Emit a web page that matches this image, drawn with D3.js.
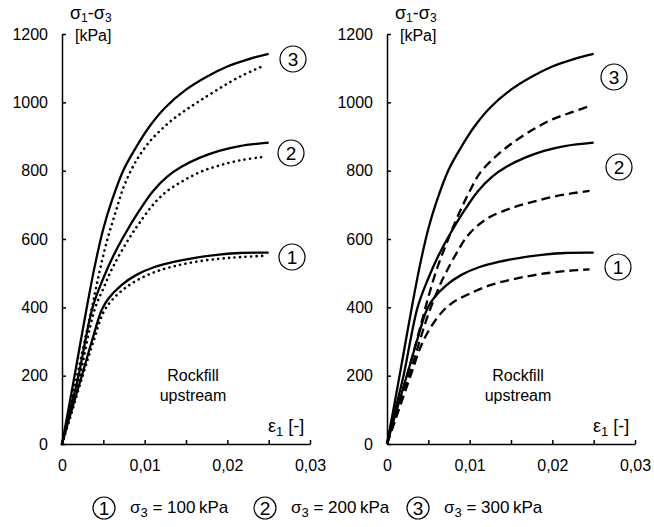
<!DOCTYPE html>
<html>
<head>
<meta charset="utf-8">
<script src="https://cdn.jsdelivr.net/npm/d3@7"></script>
<style>
  body { margin: 0; background: #fff; }
  text { font-family: "Liberation Sans", Arial, sans-serif; fill: #000; }
</style>
</head>
<body>
<div id="vis"></div>
<script>
// strain eps1 [-] vs deviator stress q [kPa]
// measured curves (solid) - same in both panels
const test1 = [[0,0],[.001,85],[.0024,200],[.0036,300],[.0048,392],[.0056,425],[.0072,465],[.009,495],[.0112,518],[.0135,533],[.0161,545],[.019,554],[.0215,559],[.025,560]];
const test2 = [[0,0],[.001,100],[.002,200],[.0037,400],[.005,485],[.0062,550],[.0074,605],[.0094,685],[.011,740],[.0127,782],[.0145,812],[.0167,838],[.019,858],[.0215,872],[.025,882]];
const test3 = [[0,0],[.001,130],[.002,265],[.003,400],[.004,525],[.005,630],[.006,710],[.0074,800],[.009,870],[.0106,930],[.0125,985],[.015,1037],[.0175,1075],[.02,1105],[.0225,1126],[.025,1142]];

// left panel model (dotted)
const dot1 = [[0,0],[.001,78],[.0025,200],[.0038,300],[.005,385],[.006,420],[.0074,452],[.009,478],[.0112,503],[.0135,520],[.0161,533],[.019,542],[.0215,547],[.0245,551]];
const dot2 = [[0,0],[.001,90],[.002,180],[.0039,390],[.005,455],[.0062,520],[.0082,605],[.0094,648],[.011,700],[.0127,740],[.0145,768],[.0167,796],[.019,815],[.0215,830],[.0243,840]];
const dot3 = [[0,0],[.001,110],[.002,220],[.0035,385],[.0045,500],[.0055,600],[.0065,680],[.0075,755],[.009,830],[.0106,885],[.012,920],[.0134,950],[.015,978],[.0167,1005],[.019,1040],[.0215,1075],[.0245,1108]];

// right panel model (dashed)
const dash1 = [[0,0],[.001,70],[.002,140],[.003,210],[.004,280],[.005,330],[.0066,385],[.008,415],[.01,440],[.0125,465],[.015,481],[.0175,493],[.02,502],[.0225,508],[.0245,511]];
const dash2 = [[0,0],[.001,75],[.002,150],[.003,225],[.004,305],[.005,380],[.0064,465],[.0072,505],[.0084,558],[.0096,605],[.011,640],[.0125,665],[.015,690],[.0175,708],[.02,723],[.0225,734],[.0245,741]];
const dash3 = [[0,0],[.001,80],[.002,165],[.003,250],[.004,340],[.005,430],[.006,510],[.007,575],[.008,635],[.009,690],[.01,740],[.0113,795],[.0133,845],[.015,878],[.0175,918],[.02,950],[.0225,972],[.0245,989]];

const xTicks = [0, 0.005, 0.01, 0.015, 0.02, 0.025, 0.03];
const yTicks = [0, 200, 400, 600, 800, 1000, 1200];
const confining = ["100", "200", "300"];

const W = 654, H = 527;

let svg = d3.select('#vis')
  .append('svg')
  .attr('width', W)
  .attr('height', H);

let y = d3.scaleLinear().domain([0, 1200]).range([444, 34]);

function panel(x0, model, dashArray, capStyle, labelPos) {
  let x = d3.scaleLinear().domain([0, 0.03]).range([x0, x0 + 248]);

  // axes, ticks pointing inwards
  svg.append("g")
    .attr("transform", `translate(0,${y(0)})`)
    .call(d3.axisBottom(x)
      .tickValues(xTicks)
      .tickSize(-4)
      .tickSizeOuter(0)
      .tickPadding(16)
      .tickFormat(d => Math.abs(d * 100 - Math.round(d * 100)) < 1e-9
        ? (d === 0 ? "0" : d3.format(".2f")(d).replace(".", ","))
        : ""))
    .call(g => g.selectAll("text").attr("font-size", 16).attr("font-family", null));

  svg.append("g")
    .attr("transform", `translate(${x(0)},0)`)
    .call(d3.axisLeft(y)
      .tickValues(yTicks)
      .tickSize(-4)
      .tickSizeOuter(0)
      .tickPadding(14)
      .tickFormat(d3.format("d")))
    .call(g => g.selectAll("text").attr("font-size", 16).attr("font-family", null));

  svg.selectAll(".domain, .tick line")
    .attr("stroke", "#000")
    .attr("stroke-width", 1.5);

  let line = d3.line()
    .x(d => x(d[0]))
    .y(d => y(d[1]))
    .curve(d3.curveCatmullRom.alpha(0.5));

  // model curves
  svg.append("g")
    .selectAll("path")
    .data(model)
    .join("path")
      .attr("d", line)
      .attr("fill", "none")
      .attr("stroke", "#000")
      .attr("stroke-width", capStyle === "round" ? 2.6 : 2.3)
      .attr("stroke-linecap", capStyle)
      .attr("stroke-dasharray", dashArray);

  // measured curves
  svg.append("g")
    .selectAll("path")
    .data([test1, test2, test3])
    .join("path")
      .attr("d", line)
      .attr("fill", "none")
      .attr("stroke", "#000")
      .attr("stroke-width", 2.3);

  // axis titles
  let q = svg.append("text")
    .attr("x", x0 + 8)
    .attr("y", 19)
    .attr("font-size", 18);
  q.append("tspan").text("σ");
  q.append("tspan").attr("font-size", 12).attr("dy", 3).text("1");
  q.append("tspan").attr("dy", -3).text("-σ");
  q.append("tspan").attr("font-size", 12).attr("dy", 3).text("3");

  svg.append("text")
    .attr("x", x0 + 13)
    .attr("y", 41)
    .attr("font-size", 16)
    .text("[kPa]");

  let e = svg.append("text")
    .attr("x", x0 + 206)
    .attr("y", 432)
    .attr("font-size", 18);
  e.append("tspan").text("ε");
  e.append("tspan").attr("font-size", 13).attr("dy", 4).text("1");
  e.append("tspan").attr("dy", -4).text(" [-]");

  svg.append("text")
    .attr("x", x0 + 131)
    .attr("y", 381)
    .attr("text-anchor", "middle")
    .attr("font-size", 16)
    .text("Rockfill");
  svg.append("text")
    .attr("x", x0 + 131)
    .attr("y", 401)
    .attr("text-anchor", "middle")
    .attr("font-size", 16)
    .text("upstream");

  // circled curve numbers
  labelPos.forEach((p, i) => circled(x0 + p[0], p[1], i + 1, 13));
}

function circled(cx, cy, n, r) {
  svg.append("circle")
    .attr("cx", cx)
    .attr("cy", cy)
    .attr("r", r)
    .attr("fill", "#fff")
    .attr("stroke", "#000")
    .attr("stroke-width", 1.2);
  svg.append("text")
    .attr("x", cx)
    .attr("y", cy + 7)
    .attr("text-anchor", "middle")
    .attr("font-size", 19)
    .text(n);
}

panel(62, [dot1, dot2, dot3], "0.1,5.4", "round", [[230, 257], [229, 153], [231, 59]]);
panel(387, [dash1, dash2, dash3], "9,5", "butt", [[231, 267], [232, 167], [227, 77]]);

// legend
const legendX = [104, 265, 418];
confining.forEach((c, i) => {
  circled(legendX[i], 508, i + 1, 11);
  let t = svg.append("text")
    .attr("x", legendX[i] + 26)
    .attr("y", 513)
    .attr("font-size", 17);
  t.append("tspan").text("σ");
  t.append("tspan").attr("font-size", 13).attr("dy", 4).text("3");
  t.append("tspan").attr("dy", -4).text(" = " + c + "\u2009kPa");
});
</script>
</body>
</html>
